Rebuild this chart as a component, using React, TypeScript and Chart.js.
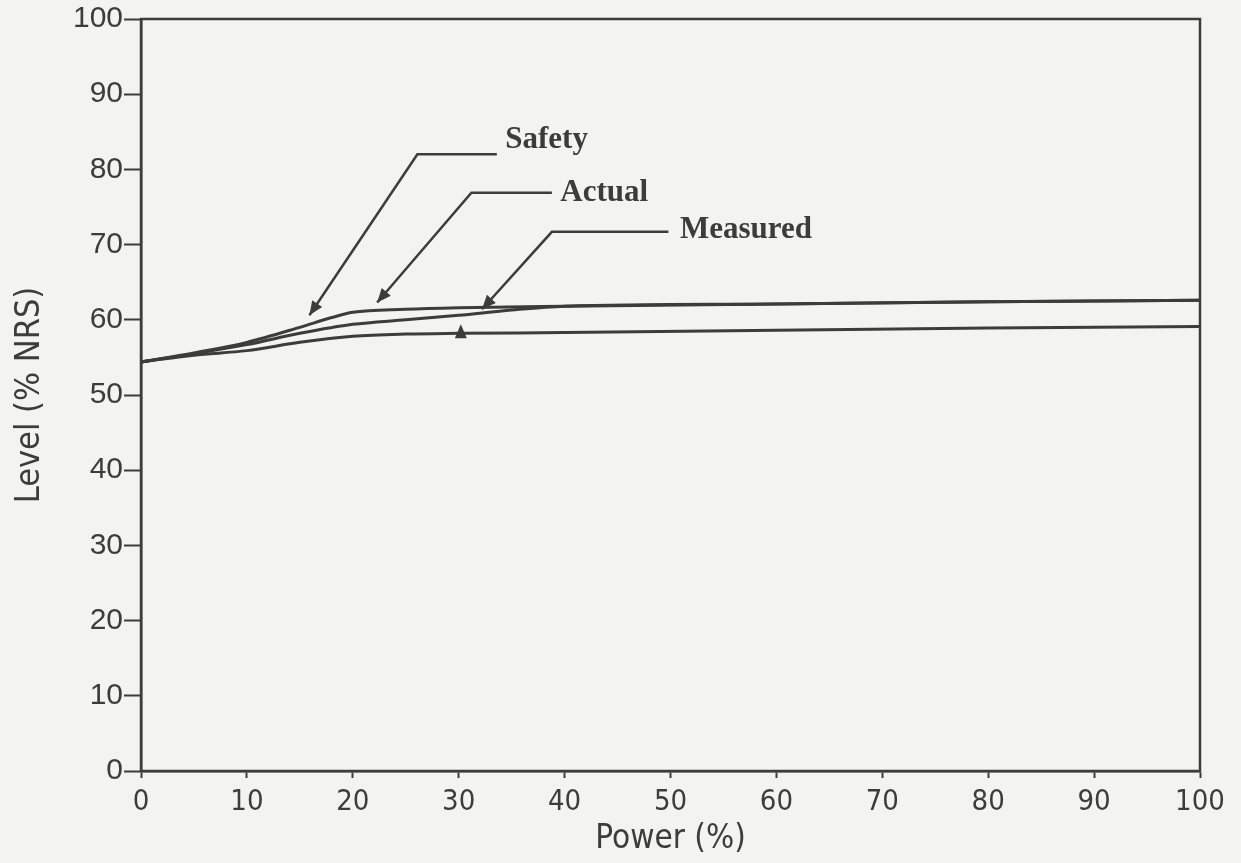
import React, { useEffect, useRef } from "react";
import { Chart, registerables } from "chart.js";

Chart.register(...registerables);

// Power (%) sample positions for each curve
const safetyPower = [0, 5, 10, 15, 18, 20, 25, 30, 40, 60, 80, 100];
const safetyLevel = [54.4, 55.6, 57.0, 59.0, 60.3, 61.0, 61.4, 61.6, 61.8, 62.1, 62.4, 62.6];

const actualPower = [0, 5, 10, 15, 20, 25, 30, 35, 40, 60, 80, 100];
const actualLevel = [54.4, 55.5, 56.7, 58.2, 59.4, 60.0, 60.6, 61.3, 61.8, 62.1, 62.4, 62.6];

const measuredPower = [0, 5, 10, 15, 20, 25, 30, 40, 60, 80, 100];
const measuredLevel = [54.4, 55.3, 55.9, 57.0, 57.8, 58.1, 58.2, 58.3, 58.6, 58.9, 59.1];

const xTicks = [0, 10, 20, 30, 40, 50, 60, 70, 80, 90, 100];
const yTicks = [0, 10, 20, 30, 40, 50, 60, 70, 80, 90, 100];

// Callout labels: text, text anchor (power, level), leader elbow, leader end near text, arrow tip
const calloutNames = ["Safety", "Actual", "Measured"];
const calloutTextAt = [
  [34.4, 83.9],
  [39.6, 76.8],
  [50.9, 72.0],
];
const calloutElbow = [
  [26.1, 82.0],
  [31.2, 76.9],
  [38.8, 71.7],
];
const calloutEnd = [
  [33.6, 82.0],
  [38.8, 76.9],
  [49.8, 71.7],
];
const calloutTip = [
  [15.9, 60.6],
  [22.3, 62.3],
  [32.2, 61.4],
];
const extraMark = [30.2, 59.4];

const INK = "#3c3c3c";

const toSeries = (xs: number[], ys: number[]) => xs.map((x, i) => ({ x, y: ys[i] }));

const calloutPlugin = {
  id: "callouts",
  beforeDraw(chart: any) {
    const { ctx } = chart;
    ctx.save();
    ctx.fillStyle = "#f3f3f1";
    ctx.fillRect(0, 0, chart.width, chart.height);
    ctx.restore();
  },
  afterDraw(chart: any) {
    const { ctx, chartArea } = chart;
    const xs = chart.scales.x;
    const ys = chart.scales.y;
    ctx.save();
    // frame
    ctx.strokeStyle = INK;
    ctx.lineWidth = 2.5;
    ctx.strokeRect(chartArea.left, chartArea.top, chartArea.right - chartArea.left, chartArea.bottom - chartArea.top);

    const px = (p: number[]) => [xs.getPixelForValue(p[0]), ys.getPixelForValue(p[1])];
    const arrow = (tip: number[], from: number[]) => {
      const ang = Math.atan2(tip[1] - from[1], tip[0] - from[0]);
      const len = 14;
      const w = 6;
      ctx.beginPath();
      ctx.moveTo(tip[0], tip[1]);
      ctx.lineTo(tip[0] - len * Math.cos(ang) + w * Math.sin(ang), tip[1] - len * Math.sin(ang) - w * Math.cos(ang));
      ctx.lineTo(tip[0] - len * Math.cos(ang) - w * Math.sin(ang), tip[1] - len * Math.sin(ang) + w * Math.cos(ang));
      ctx.closePath();
      ctx.fill();
    };

    ctx.strokeStyle = INK;
    ctx.fillStyle = INK;
    ctx.lineWidth = 2.5;
    calloutNames.forEach((name, i) => {
      const e = px(calloutEnd[i]);
      const el = px(calloutElbow[i]);
      const t = px(calloutTip[i]);
      ctx.beginPath();
      ctx.moveTo(e[0], e[1]);
      ctx.lineTo(el[0], el[1]);
      ctx.lineTo(t[0], t[1]);
      ctx.stroke();
      arrow(t, el);
      const ta = px(calloutTextAt[i]);
      ctx.font = "bold 31px 'Liberation Serif', 'Times New Roman', serif";
      ctx.textAlign = "left";
      ctx.textBaseline = "middle";
      ctx.fillText(name, ta[0], ta[1]);
    });
    const m = px(extraMark);
    arrow(m, [m[0], m[1] + 20]);
    ctx.restore();
  },
};

const COND = "'DejaVu Sans Condensed', 'Liberation Sans Narrow', 'Liberation Sans', sans-serif";

export default function App() {
  const ref = useRef<HTMLCanvasElement | null>(null);
  useEffect(() => {
    if (!ref.current) return;
    const lineStyle = {
      borderColor: INK,
      borderWidth: 3,
      pointRadius: 0,
      fill: false,
      cubicInterpolationMode: "monotone" as const,
    };
    const chart = new Chart(ref.current, {
      type: "line",
      data: {
        datasets: [
          { label: "Safety", data: toSeries(safetyPower, safetyLevel), ...lineStyle },
          { label: "Actual", data: toSeries(actualPower, actualLevel), ...lineStyle },
          { label: "Measured", data: toSeries(measuredPower, measuredLevel), ...lineStyle },
        ],
      },
      options: {
        animation: false,
        responsive: false,
        layout: { padding: { left: 6, right: 41, top: 15, bottom: 2 } },
        plugins: { legend: { display: false }, tooltip: { enabled: false } },
        scales: {
          x: {
            type: "linear",
            min: 0,
            max: 100,
            afterBuildTicks: (s: any) => {
              s.ticks = xTicks.map((v) => ({ value: v }));
            },
            afterFit: (s: any) => {
              s.height = 90;
            },
            grid: { display: true, drawOnChartArea: false, drawTicks: true, tickLength: 7, color: INK, tickWidth: 2 },
            border: { display: true, color: INK, width: 2.5 },
            ticks: {
              color: INK,
              padding: 7,
              maxRotation: 0,
              font: { family: COND, size: 29 },
            },
            title: {
              display: true,
              text: "Power (%)",
              color: INK,
              padding: { top: 0, bottom: 2 },
              font: { family: COND, size: 33 },
            },
          },
          y: {
            type: "linear",
            min: 0,
            max: 100,
            afterBuildTicks: (s: any) => {
              s.ticks = yTicks.map((v) => ({ value: v }));
            },
            afterFit: (s: any) => {
              s.width = 135;
            },
            grid: { display: true, drawOnChartArea: false, drawTicks: true, tickLength: 17, color: INK, tickWidth: 2 },
            border: { display: true, color: INK, width: 2.5 },
            ticks: {
              color: INK,
              padding: 1,
              font: { family: "'Liberation Sans', Arial, sans-serif", size: 30 },
            },
            title: {
              display: true,
              text: "Level (% NRS)",
              color: INK,
              padding: { top: 4, bottom: 0 },
              font: { family: COND, size: 34 },
            },
          },
        },
      },
      plugins: [calloutPlugin],
    });
    return () => chart.destroy();
  }, []);
  return (
    <canvas
      ref={ref}
      width={1241}
      height={863}
      style={{ position: "fixed", left: 0, top: 0, width: 1241, height: 863 }}
    />
  );
}
